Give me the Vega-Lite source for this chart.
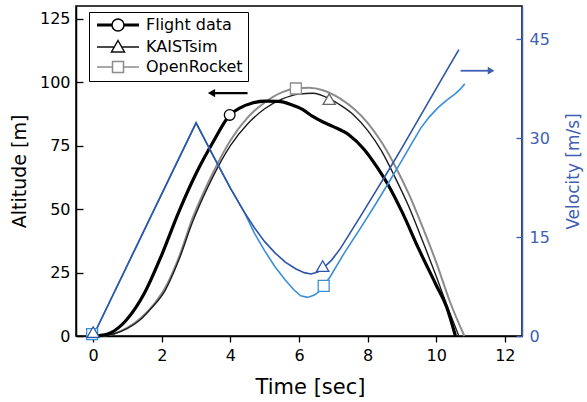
{
  "$schema": "https://vega.github.io/schema/vega-lite/v6.json",
  "width": 446,
  "height": 330,
  "autosize": {"type": "none"},
  "padding": {"left": 76, "top": 6, "right": 65, "bottom": 66},
  "config": {
    "font": "DejaVu Sans",
    "view": {"stroke": "black", "strokeWidth": 1.5},
    "axis": {"grid": false, "labelFontSize": 16, "labelColor": "black", "titleColor": "black", "titleFontWeight": "normal", "domainColor": "black", "domainWidth": 1.5, "tickColor": "black", "tickWidth": 1.3},
    "legend": {"orient": "none", "legendX": 13, "legendY": 6, "strokeColor": "black", "fillColor": "white", "padding": 5, "labelFontSize": 16, "labelColor": "black", "symbolSize": 100, "symbolStrokeWidth": 1.5, "labelOffset": 36, "rowPadding": 3, "symbolFillColor": "white"}
  },
  "datasets": {
    "altitude": [
      {"series": "Flight data", "t": 0.1, "alt": 0}, {"series": "Flight data", "t": 0.5, "alt": 1.2}, {"series": "Flight data", "t": 0.95, "alt": 6}, {"series": "Flight data", "t": 1.5, "alt": 17}, {"series": "Flight data", "t": 2.0, "alt": 32}, {"series": "Flight data", "t": 2.5, "alt": 49}, {"series": "Flight data", "t": 3.0, "alt": 64}, {"series": "Flight data", "t": 3.5, "alt": 76.5}, {"series": "Flight data", "t": 3.98, "alt": 87}, {"series": "Flight data", "t": 4.3, "alt": 90}, {"series": "Flight data", "t": 4.6, "alt": 91.6}, {"series": "Flight data", "t": 5.0, "alt": 92.5}, {"series": "Flight data", "t": 5.4, "alt": 92.4}, {"series": "Flight data", "t": 5.8, "alt": 91}, {"series": "Flight data", "t": 6.1, "alt": 89.3}, {"series": "Flight data", "t": 6.4, "alt": 86.5}, {"series": "Flight data", "t": 6.7, "alt": 84.3}, {"series": "Flight data", "t": 7.0, "alt": 82.5}, {"series": "Flight data", "t": 7.45, "alt": 79.3}, {"series": "Flight data", "t": 7.9, "alt": 73.5}, {"series": "Flight data", "t": 8.3, "alt": 66}, {"series": "Flight data", "t": 8.6, "alt": 59.5}, {"series": "Flight data", "t": 9.0, "alt": 49}, {"series": "Flight data", "t": 9.5, "alt": 34}, {"series": "Flight data", "t": 10.0, "alt": 20}, {"series": "Flight data", "t": 10.3, "alt": 11.5}, {"series": "Flight data", "t": 10.56, "alt": 0},
      {"series": "KAISTsim", "t": 0.2, "alt": 0}, {"series": "KAISTsim", "t": 0.6, "alt": 0.8}, {"series": "KAISTsim", "t": 1.0, "alt": 3}, {"series": "KAISTsim", "t": 1.34, "alt": 6}, {"series": "KAISTsim", "t": 1.7, "alt": 11}, {"series": "KAISTsim", "t": 2.1, "alt": 18}, {"series": "KAISTsim", "t": 2.5, "alt": 30}, {"series": "KAISTsim", "t": 2.9, "alt": 45}, {"series": "KAISTsim", "t": 3.2, "alt": 54.5}, {"series": "KAISTsim", "t": 3.5, "alt": 63}, {"series": "KAISTsim", "t": 4.0, "alt": 75}, {"series": "KAISTsim", "t": 4.5, "alt": 83.5}, {"series": "KAISTsim", "t": 5.0, "alt": 89.5}, {"series": "KAISTsim", "t": 5.5, "alt": 93.3}, {"series": "KAISTsim", "t": 6.0, "alt": 95.3}, {"series": "KAISTsim", "t": 6.4, "alt": 95.6}, {"series": "KAISTsim", "t": 6.88, "alt": 93.5}, {"series": "KAISTsim", "t": 7.2, "alt": 91}, {"series": "KAISTsim", "t": 7.6, "alt": 87}, {"series": "KAISTsim", "t": 8.0, "alt": 81}, {"series": "KAISTsim", "t": 8.4, "alt": 73}, {"series": "KAISTsim", "t": 8.8, "alt": 62.5}, {"series": "KAISTsim", "t": 9.2, "alt": 51}, {"series": "KAISTsim", "t": 9.6, "alt": 37.5}, {"series": "KAISTsim", "t": 10.0, "alt": 23.5}, {"series": "KAISTsim", "t": 10.3, "alt": 12.5}, {"series": "KAISTsim", "t": 10.66, "alt": 0},
      {"series": "OpenRocket", "t": 0.2, "alt": 0}, {"series": "OpenRocket", "t": 0.6, "alt": 0.9}, {"series": "OpenRocket", "t": 1.0, "alt": 3.3}, {"series": "OpenRocket", "t": 1.4, "alt": 7.2}, {"series": "OpenRocket", "t": 1.8, "alt": 13}, {"series": "OpenRocket", "t": 2.1, "alt": 19}, {"series": "OpenRocket", "t": 2.5, "alt": 31}, {"series": "OpenRocket", "t": 2.9, "alt": 46.5}, {"series": "OpenRocket", "t": 3.2, "alt": 56}, {"series": "OpenRocket", "t": 3.5, "alt": 64.5}, {"series": "OpenRocket", "t": 4.0, "alt": 77}, {"series": "OpenRocket", "t": 4.5, "alt": 86}, {"series": "OpenRocket", "t": 5.0, "alt": 92}, {"series": "OpenRocket", "t": 5.5, "alt": 96}, {"series": "OpenRocket", "t": 5.9, "alt": 97.5}, {"series": "OpenRocket", "t": 6.3, "alt": 97.8}, {"series": "OpenRocket", "t": 6.7, "alt": 96.8}, {"series": "OpenRocket", "t": 7.2, "alt": 93.5}, {"series": "OpenRocket", "t": 7.6, "alt": 89.5}, {"series": "OpenRocket", "t": 8.0, "alt": 84}, {"series": "OpenRocket", "t": 8.4, "alt": 76.5}, {"series": "OpenRocket", "t": 8.8, "alt": 67}, {"series": "OpenRocket", "t": 9.2, "alt": 56}, {"series": "OpenRocket", "t": 9.6, "alt": 43}, {"series": "OpenRocket", "t": 10.0, "alt": 29}, {"series": "OpenRocket", "t": 10.4, "alt": 13.5}, {"series": "OpenRocket", "t": 10.82, "alt": 0}
    ],
    "velocity": [
      {"series": "KAISTsim", "t": 0, "vel": 0}, {"series": "KAISTsim", "t": 3, "vel": 32.3}, {"series": "KAISTsim", "t": 3.5, "vel": 27.3}, {"series": "KAISTsim", "t": 4.0, "vel": 22.4}, {"series": "KAISTsim", "t": 4.4, "vel": 18.8}, {"series": "KAISTsim", "t": 4.7, "vel": 16.4}, {"series": "KAISTsim", "t": 5.0, "vel": 14.3}, {"series": "KAISTsim", "t": 5.3, "vel": 12.6}, {"series": "KAISTsim", "t": 5.6, "vel": 11.2}, {"series": "KAISTsim", "t": 5.9, "vel": 10.2}, {"series": "KAISTsim", "t": 6.15, "vel": 9.6}, {"series": "KAISTsim", "t": 6.35, "vel": 9.4}, {"series": "KAISTsim", "t": 6.55, "vel": 9.7}, {"series": "KAISTsim", "t": 6.75, "vel": 10.5}, {"series": "KAISTsim", "t": 6.95, "vel": 11.5}, {"series": "KAISTsim", "t": 7.2, "vel": 13.2}, {"series": "KAISTsim", "t": 7.5, "vel": 15.7}, {"series": "KAISTsim", "t": 7.8, "vel": 18.2}, {"series": "KAISTsim", "t": 8.2, "vel": 21.6}, {"series": "KAISTsim", "t": 8.6, "vel": 25.0}, {"series": "KAISTsim", "t": 9.0, "vel": 28.5}, {"series": "KAISTsim", "t": 9.4, "vel": 32.1}, {"series": "KAISTsim", "t": 9.8, "vel": 35.7}, {"series": "KAISTsim", "t": 10.2, "vel": 39.3}, {"series": "KAISTsim", "t": 10.66, "vel": 43.4},
      {"series": "OpenRocket", "t": 0, "vel": 0}, {"series": "OpenRocket", "t": 3, "vel": 32.3}, {"series": "OpenRocket", "t": 3.5, "vel": 27.3}, {"series": "OpenRocket", "t": 4.0, "vel": 22.4}, {"series": "OpenRocket", "t": 4.4, "vel": 18.8}, {"series": "OpenRocket", "t": 4.7, "vel": 15.6}, {"series": "OpenRocket", "t": 5.0, "vel": 12.9}, {"series": "OpenRocket", "t": 5.3, "vel": 10.5}, {"series": "OpenRocket", "t": 5.6, "vel": 8.5}, {"series": "OpenRocket", "t": 5.85, "vel": 7.0}, {"series": "OpenRocket", "t": 6.05, "vel": 6.1}, {"series": "OpenRocket", "t": 6.25, "vel": 5.85}, {"series": "OpenRocket", "t": 6.45, "vel": 6.2}, {"series": "OpenRocket", "t": 6.6, "vel": 6.8}, {"series": "OpenRocket", "t": 6.72, "vel": 7.6}, {"series": "OpenRocket", "t": 6.9, "vel": 8.9}, {"series": "OpenRocket", "t": 7.3, "vel": 12.4}, {"series": "OpenRocket", "t": 7.75, "vel": 16.0}, {"series": "OpenRocket", "t": 8.2, "vel": 19.7}, {"series": "OpenRocket", "t": 8.62, "vel": 23.3}, {"series": "OpenRocket", "t": 9.0, "vel": 26.6}, {"series": "OpenRocket", "t": 9.3, "vel": 29.3}, {"series": "OpenRocket", "t": 9.55, "vel": 31.5}, {"series": "OpenRocket", "t": 9.8, "vel": 33.2}, {"series": "OpenRocket", "t": 10.05, "vel": 34.6}, {"series": "OpenRocket", "t": 10.3, "vel": 35.7}, {"series": "OpenRocket", "t": 10.55, "vel": 36.7}, {"series": "OpenRocket", "t": 10.7, "vel": 37.4}, {"series": "OpenRocket", "t": 10.83, "vel": 38.2}
    ],
    "altMarkers": [
      {"series": "Flight data", "t": 3.98, "alt": 87.1},
      {"series": "KAISTsim", "t": 6.88, "alt": 93.3},
      {"series": "OpenRocket", "t": 5.91, "alt": 97.5}
    ],
    "velMarkers": [
      {"series": "OpenRocket", "t": -0.03, "vel": 0.3},
      {"series": "OpenRocket", "t": 6.72, "vel": 7.6},
      {"series": "KAISTsim", "t": 0, "vel": 0.6},
      {"series": "KAISTsim", "t": 6.69, "vel": 10.6}
    ],
    "arrows": [
      {"arrow": "altitude", "t": 3.45, "t2": 4.5, "alt": 95.7},
      {"arrow": "velocity", "t": 10.71, "t2": 11.6, "alt": 104.5}
    ]
  },
  "layer": [
    {
      "data": {"name": "altitude"},
      "encoding": {
        "x": {"field": "t", "type": "quantitative", "scale": {"domain": [-0.5, 12.5], "nice": false, "zero": false}, "axis": {"title": "Time [sec]", "values": [0, 2, 4, 6, 8, 10, 12], "tickSize": 6, "labelPadding": 5, "titleFontSize": 21, "titlePadding": 13, "titleX": 234}},
        "y": {"field": "alt", "type": "quantitative", "scale": {"domain": [0, 130], "nice": false}, "axis": {"orient": "left", "title": "Altitude [m]", "values": [0, 25, 50, 75, 100, 125], "tickSize": -7, "labelPadding": 13, "titleFontSize": 19, "titlePadding": 10}}
      },
      "layer": [
        {"transform": [{"filter": "datum.series === 'OpenRocket'"}], "mark": {"type": "line", "color": "#8c8c8c", "strokeWidth": 2, "interpolate": "monotone"}},
        {"transform": [{"filter": "datum.series === 'KAISTsim'"}], "mark": {"type": "line", "color": "#1c1c1c", "strokeWidth": 1.4, "interpolate": "monotone"}},
        {"transform": [{"filter": "datum.series === 'Flight data'"}], "mark": {"type": "line", "color": "black", "strokeWidth": 3.2, "interpolate": "monotone"}},
        {"data": {"name": "altMarkers"}, "transform": [{"filter": "datum.series === 'Flight data'"}], "mark": {"type": "point", "shape": "circle", "filled": true, "fill": "white", "stroke": "black", "strokeWidth": 1.3, "size": 115, "opacity": 1}},
        {"data": {"name": "altMarkers"}, "transform": [{"filter": "datum.series === 'KAISTsim'"}], "mark": {"type": "point", "shape": "triangle-up", "filled": true, "fill": "white", "stroke": "#666666", "strokeWidth": 1.3, "size": 150, "opacity": 1}},
        {"data": {"name": "altMarkers"}, "transform": [{"filter": "datum.series === 'OpenRocket'"}], "mark": {"type": "point", "shape": "square", "filled": true, "fill": "white", "stroke": "#8c8c8c", "strokeWidth": 1.3, "size": 120, "opacity": 1}},
        {
          "data": {"name": "altMarkers"},
          "transform": [{"filter": "datum.t < -100"}],
          "mark": {"type": "point", "filled": true, "fill": "white", "opacity": 1},
          "encoding": {
            "shape": {"field": "series", "type": "nominal", "title": null, "scale": {"domain": ["Flight data", "KAISTsim", "OpenRocket"], "range": ["M-1,-0.14H2M-1,0.14H2M4.4,-0.14H7.4M4.4,0.14H7.4M4.4,0A1.2,1.2,0,1,1,2,0A1.2,1.2,0,1,1,4.4,0Z", "M-1,0H2.47M3.93,0H7.4M3.2,-1.3L4.5,1L1.9,1Z", "M-1,0H2.1M4.3,0H7.4M2.1,-1.1H4.3V1.1H2.1Z"]}},
            "stroke": {"field": "series", "type": "nominal", "title": null, "scale": {"domain": ["Flight data", "KAISTsim", "OpenRocket"], "range": ["#000000", "#111111", "#8c8c8c"]}}
          }
        },
        {"data": {"name": "arrows"}, "transform": [{"filter": "datum.arrow === 'altitude'"}], "mark": {"type": "rule", "color": "black", "strokeWidth": 2.2}, "encoding": {"x": {"field": "t", "type": "quantitative", "title": "Time [sec]"}, "x2": {"field": "t2"}}},
        {"data": {"name": "arrows"}, "transform": [{"filter": "datum.arrow === 'altitude'"}], "mark": {"type": "point", "shape": "triangle-left", "filled": true, "color": "black", "size": 70, "opacity": 1}, "encoding": {"x": {"field": "t", "type": "quantitative", "title": "Time [sec]"}}},
        {"data": {"name": "arrows"}, "transform": [{"filter": "datum.arrow === 'velocity'"}], "mark": {"type": "rule", "color": "#3f5fb5", "strokeWidth": 1.8}, "encoding": {"x": {"field": "t", "type": "quantitative", "title": "Time [sec]"}, "x2": {"field": "t2"}}},
        {"data": {"name": "arrows"}, "transform": [{"filter": "datum.arrow === 'velocity'"}], "mark": {"type": "point", "shape": "triangle-right", "filled": true, "color": "#3f5fb5", "size": 60, "opacity": 1}, "encoding": {"x": {"field": "t2", "type": "quantitative", "title": "Time [sec]"}}}
      ]
    },
    {
      "data": {"name": "velocity"},
      "encoding": {
        "x": {"field": "t", "type": "quantitative", "scale": {"domain": [-0.5, 12.5], "nice": false, "zero": false}, "axis": {"title": "Time [sec]", "values": [0, 2, 4, 6, 8, 10, 12], "tickSize": 6, "labelPadding": 5, "titleFontSize": 21, "titlePadding": 13, "titleX": 234}},
        "y": {"field": "vel", "type": "quantitative", "scale": {"domain": [0, 50], "nice": false}, "axis": {"orient": "right", "title": "Velocity [m/s]", "values": [0, 15, 30, 45], "tickSize": -6, "labelPadding": 13, "titleFontSize": 17, "titlePadding": 33, "titleAngle": 270, "domainColor": "#3f5fb5", "tickColor": "#3f5fb5", "labelColor": "#3f5fb5", "titleColor": "#3f5fb5"}}
      },
      "layer": [
        {"transform": [{"filter": "datum.series === 'OpenRocket'"}], "mark": {"type": "line", "color": "#3a8fd6", "strokeWidth": 1.6}},
        {"transform": [{"filter": "datum.series === 'KAISTsim'"}], "mark": {"type": "line", "color": "#2d55a8", "strokeWidth": 1.6}},
        {"data": {"name": "velMarkers"}, "transform": [{"filter": "datum.series === 'OpenRocket'"}], "mark": {"type": "point", "shape": "square", "filled": true, "fill": "white", "stroke": "#3a8fd6", "strokeWidth": 1.3, "size": 120, "opacity": 1}},
        {"data": {"name": "velMarkers"}, "transform": [{"filter": "datum.series === 'KAISTsim'"}], "mark": {"type": "point", "shape": "triangle-up", "filled": true, "fill": "white", "stroke": "#2d55a8", "strokeWidth": 1.3, "size": 150, "opacity": 1}}
      ]
    }
  ],
  "resolve": {"scale": {"y": "independent"}, "axis": {"y": "independent"}}
}
